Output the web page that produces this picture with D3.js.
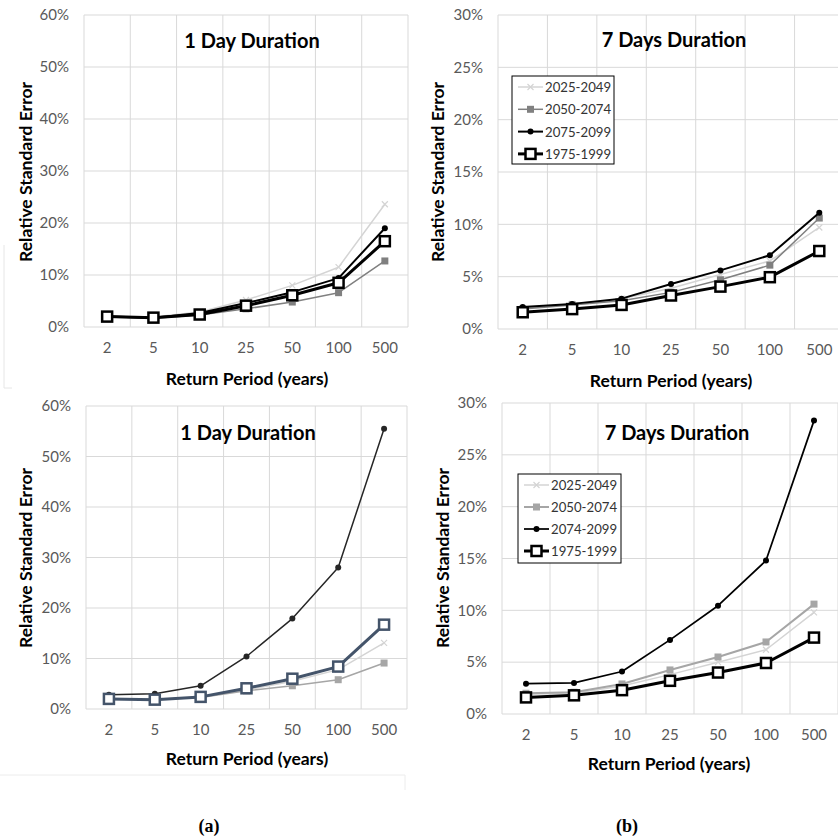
<!DOCTYPE html>
<html>
<head>
<meta charset="utf-8">
<script src="https://cdn.jsdelivr.net/npm/d3@7"></script>
<style>
  body { margin: 0; background: #fff; }
  svg { display: block; }
</style>
</head>
<body>
<div id="container"></div>
<script>
/* DATA — relative standard error (%) by return period */
const periods = ["2", "5", "10", "25", "50", "100", "500"];

const namesTop = ["2025-2049", "2050-2074", "2075-2099", "1975-1999"];
const namesBottom = ["2025-2049", "2050-2074", "2074-2099", "1975-1999"];

// (a) top: 1 day
const a1_2025 = [2.0, 1.9, 2.9, 5.2, 8.0, 11.5, 23.6];
const a1_2050 = [1.9, 1.7, 2.3, 3.5, 4.8, 6.6, 12.7];
const a1_2075 = [2.0, 1.8, 2.7, 4.6, 6.7, 9.4, 19.0];
const a1_1975 = [2.0, 1.8, 2.4, 4.1, 6.1, 8.5, 16.5];

// (b) top: 7 days
const b1_2025 = [2.0, 2.4, 2.9, 3.9, 5.2, 6.5, 9.7];
const b1_2050 = [1.9, 2.3, 2.7, 3.5, 4.7, 6.1, 10.6];
const b1_2075 = [2.1, 2.4, 2.9, 4.3, 5.6, 7.05, 11.1];
const b1_1975 = [1.6, 1.9, 2.3, 3.2, 4.05, 4.95, 7.45];

// (a) bottom: 1 day
const a2_2025 = [2.1, 1.9, 2.4, 3.8, 5.5, 7.8, 13.1];
const a2_2050 = [2.0, 1.9, 2.3, 3.6, 4.6, 5.8, 9.1];
const a2_2074 = [2.8, 3.0, 4.6, 10.4, 17.9, 28.0, 55.5];
const a2_1975 = [2.0, 1.85, 2.4, 4.1, 6.0, 8.4, 16.7];

// (b) bottom: 7 days
const b2_2025 = [1.9, 2.0, 2.7, 3.8, 5.0, 6.2, 9.8];
const b2_2050 = [2.0, 2.1, 2.9, 4.25, 5.5, 6.95, 10.6];
const b2_2074 = [2.93, 3.0, 4.1, 7.15, 10.45, 14.8, 28.3];
const b2_1975 = [1.6, 1.8, 2.3, 3.2, 4.0, 4.92, 7.37];

const yTicks60 = [0, 10, 20, 30, 40, 50, 60];
const yTicks30 = [0, 5, 10, 15, 20, 25, 30];

/* SVG */
const W = 838, H = 839;
const svg = d3.select("#container").append("svg")
  .attr("width", W).attr("height", H);

const FONT = "Lato, 'Open Sans', sans-serif";

/* series styles, per panel */
const stylesTop = [
  { color: "#d4d4d4", width: 1.5, marker: "x" },
  { color: "#808080", width: 1.5, marker: "sq" },
  { color: "#000000", width: 2, marker: "dot" },
  { color: "#000000", width: 3, marker: "open" }
];
const stylesBL = [
  { color: "#d4d4d4", width: 1.5, marker: "x" },
  { color: "#a6a6a6", width: 1.5, marker: "sq" },
  { color: "#262626", width: 1.5, marker: "dot" },
  { color: "#44546a", width: 3, marker: "open" }
];
const stylesBR = [
  { color: "#d4d4d4", width: 1.5, marker: "x" },
  { color: "#a6a6a6", width: 2, marker: "sq" },
  { color: "#000000", width: 1.75, marker: "dot" },
  { color: "#000000", width: 3, marker: "open" }
];

function drawMarker(g, type, x, y, color) {
  if (type === "x") {
    g.append("path")
      .attr("d", `M${x-3},${y-3}L${x+3},${y+3}M${x-3},${y+3}L${x+3},${y-3}`)
      .attr("stroke", color).attr("stroke-width", 1.2).attr("fill", "none");
  } else if (type === "sq") {
    g.append("rect").attr("x", x - 3.5).attr("y", y - 3.5)
      .attr("width", 7).attr("height", 7).attr("fill", color);
  } else if (type === "dot") {
    g.append("circle").attr("cx", x).attr("cy", y).attr("r", 3).attr("fill", color);
  } else {
    g.append("rect").attr("x", x - 5).attr("y", y - 5)
      .attr("width", 10).attr("height", 10)
      .attr("fill", "#fff").attr("stroke", color).attr("stroke-width", 2.5);
  }
}

function drawPanel(p) {
  const g = svg.append("g");
  const x = d3.scaleBand().domain(periods).range([p.left, p.right]);
  const y = d3.scaleLinear().domain([0, p.yMax]).range([p.bottom, p.top]);

  // grid: horizontal
  g.selectAll(".hg").data(p.ticks).join("line")
    .attr("x1", p.left).attr("x2", p.right)
    .attr("y1", d => y(d)).attr("y2", d => y(d))
    .attr("stroke", "#d9d9d9").attr("stroke-width", 1);
  // grid: vertical at band edges
  const edges = periods.map(d => x(d)).concat([p.right]);
  g.selectAll(".vg").data(edges).join("line")
    .attr("x1", d => d).attr("x2", d => d)
    .attr("y1", p.top).attr("y2", p.bottom)
    .attr("stroke", "#d9d9d9").attr("stroke-width", 1);

  // y axis labels
  const yAxis = d3.axisLeft(y).tickValues(p.ticks).tickSize(0).tickPadding(0)
    .tickFormat(d => d + "%");
  const ya = g.append("g").attr("transform", `translate(${p.left - 15},0)`).call(yAxis);
  ya.select(".domain").remove();
  ya.selectAll("text").attr("font-family", FONT).attr("font-size", 15)
    .attr("fill", "#595959");

  // x axis labels
  const xAxis = d3.axisBottom(x).tickSize(0).tickPadding(0);
  const xa = g.append("g").attr("transform", `translate(0,${p.bottom + 15})`).call(xAxis);
  xa.select(".domain").remove();
  xa.selectAll("text").attr("font-family", FONT).attr("font-size", 15)
    .attr("fill", "#595959");

  // series
  const line = d3.line()
    .x((d, i) => x(periods[i]) + x.bandwidth() / 2)
    .y(d => y(d));
  p.series.forEach((s, k) => {
    const st = p.styles[k];
    g.append("path").datum(s)
      .attr("d", line).attr("fill", "none")
      .attr("stroke", st.color).attr("stroke-width", st.width)
      .attr("stroke-linejoin", "round");
    s.forEach((v, i) => drawMarker(g, st.marker,
      x(periods[i]) + x.bandwidth() / 2, y(v), st.color));
  });

  // title
  g.append("text").attr("x", p.titleX).attr("y", p.titleY)
    .attr("text-anchor", "middle").attr("font-family", FONT)
    .attr("font-weight", "bold").attr("font-size", 20).attr("fill", "#000")
    .text(p.title);

  // axis titles
  g.append("text")
    .attr("transform", `translate(${p.yLabelX},${p.yLabelY}) rotate(-90)`)
    .attr("text-anchor", "middle").attr("dominant-baseline", "central")
    .attr("font-family", FONT).attr("font-weight", "bold").attr("font-size", 17.5)
    .text("Relative Standard Error");
  g.append("text").attr("x", p.xLabelX).attr("y", p.xLabelY)
    .attr("text-anchor", "middle").attr("dominant-baseline", "central")
    .attr("font-family", FONT).attr("font-weight", "bold").attr("font-size", 17.5)
    .text("Return Period (years)");

  // legend
  if (p.legend) {
    const L = p.legend;
    g.append("rect").attr("x", L.x).attr("y", L.y)
      .attr("width", L.w).attr("height", L.h)
      .attr("fill", "#fff").attr("stroke", "#000").attr("stroke-width", 1);
    p.names.forEach((n, k) => {
      const st = p.styles[k];
      const ly = L.y + 11 + k * L.step;
      g.append("line").attr("x1", L.x + 6).attr("x2", L.x + 31)
        .attr("y1", ly).attr("y2", ly)
        .attr("stroke", st.color).attr("stroke-width", st.width);
      drawMarker(g, st.marker, L.x + 18.5, ly, st.color);
      g.append("text").attr("x", L.x + 33).attr("y", ly)
        .attr("dominant-baseline", "central")
        .attr("font-family", FONT).attr("font-size", 13.2).attr("fill", "#333")
        .text(n);
    });
  }
}

drawPanel({
  left: 84, right: 408, top: 15, bottom: 327, yMax: 60, ticks: yTicks60,
  series: [a1_2025, a1_2050, a1_2075, a1_1975], styles: stylesTop, names: namesTop,
  title: "1 Day Duration", titleX: 252, titleY: 48,
  yLabelX: 25, yLabelY: 172, xLabelX: 247, xLabelY: 378
});
drawPanel({
  left: 498, right: 844, top: 15, bottom: 329, yMax: 30, ticks: yTicks30,
  series: [b1_2025, b1_2050, b1_2075, b1_1975], styles: stylesTop, names: namesTop,
  title: "7 Days Duration", titleX: 674, titleY: 47,
  yLabelX: 437, yLabelY: 172, xLabelX: 671, xLabelY: 380,
  legend: { x: 512, y: 76, w: 102, h: 88, step: 22.3 }
});
drawPanel({
  left: 86, right: 407, top: 406, bottom: 709, yMax: 60, ticks: yTicks60,
  series: [a2_2025, a2_2050, a2_2074, a2_1975], styles: stylesBL, names: namesBottom,
  title: "1 Day Duration", titleX: 248, titleY: 440,
  yLabelX: 25, yLabelY: 558, xLabelX: 247, xLabelY: 758
});
drawPanel({
  left: 502, right: 838, top: 403, bottom: 714, yMax: 30, ticks: yTicks30,
  series: [b2_2025, b2_2050, b2_2074, b2_1975], styles: stylesBR, names: namesBottom,
  title: "7 Days Duration", titleX: 677, titleY: 440,
  yLabelX: 442, yLabelY: 558, xLabelX: 669, xLabelY: 763,
  legend: { x: 518, y: 474, w: 103, h: 89, step: 22 }
});

/* faint chart-area frames */
svg.append("path").attr("d", "M4,245V388H12").attr("stroke", "#e6e6e6").attr("fill", "none");
svg.append("path").attr("d", "M0,775H405V790").attr("stroke", "#ececec").attr("fill", "none");

/* panel captions */
svg.append("text").attr("x", 209).attr("y", 832).attr("text-anchor", "middle")
  .attr("font-family", "'Liberation Serif', serif").attr("font-weight", "bold")
  .attr("font-size", 18).text("(a)");
svg.append("text").attr("x", 627).attr("y", 832).attr("text-anchor", "middle")
  .attr("font-family", "'Liberation Serif', serif").attr("font-weight", "bold")
  .attr("font-size", 18).text("(b)");
</script>
</body>
</html>
